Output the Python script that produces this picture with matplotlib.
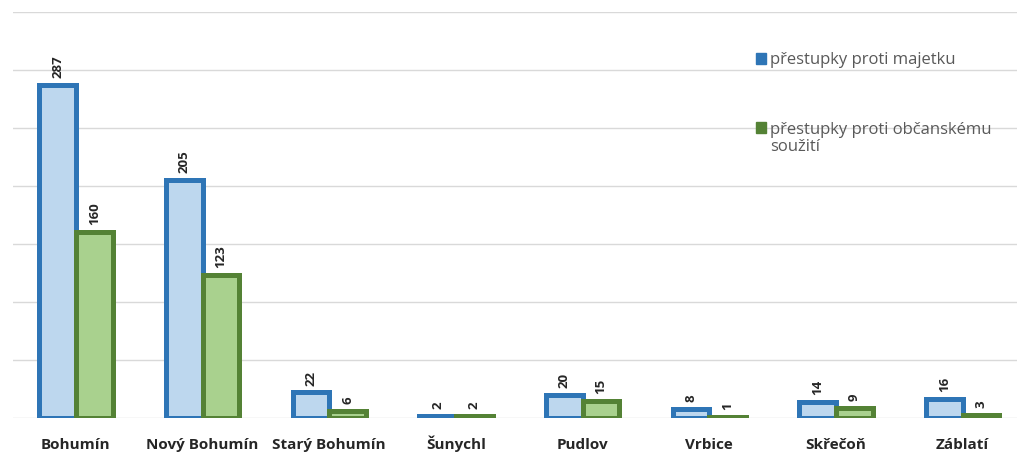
import numpy as np
import matplotlib
matplotlib.use("Agg")
import matplotlib.pyplot as plt
from matplotlib.patches import Patch

categories = ["Bohumín", "Nový Bohumín", "Starý Bohumín", "Šunychl",
              "Pudlov", "Vrbice", "Skřečoň", "Záblatí"]
majetek = [287, 205, 22, 2, 20, 8, 14, 16]
soužití = [160, 123, 6, 2, 15, 1, 9, 3]
series_names = ["přestupky proti majetku", "přestupky proti občanskému\nsoužití"]

plt.rcParams['font.family'] = ['Open Sans', 'DejaVu Sans']

fig = plt.figure(figsize=(10.17, 4.55), dpi=100)
ax = fig.add_axes([12.6 / 1017, 1 - 418 / 455, 1013.4 / 1017, 406 / 455])

x = np.arange(len(categories))
w = 0.29
blue_edge, blue_fill = "#2E75B6", "#BDD7EE"
green_edge, green_fill = "#548235", "#A9D18E"

b1 = ax.bar(x - w / 2, majetek, w, facecolor=blue_fill, edgecolor=blue_edge, linewidth=3.6, zorder=3)
b2 = ax.bar(x + w / 2, soužití, w, facecolor=green_fill, edgecolor=green_edge, linewidth=3.6, zorder=3)

for bars, vals in ((b1, majetek), (b2, soužití)):
    for rect, v in zip(bars, vals):
        ax.annotate(str(v), (rect.get_x() + rect.get_width() / 2, v),
                    xytext=(0, 5), textcoords="offset points",
                    rotation=90, ha="center", va="bottom",
                    fontsize=9.5, fontweight="bold", color="#262626")

ax.set_xlim(-0.5, len(categories) - 0.5)
ax.set_ylim(0, 350)
ax.set_yticks(np.arange(0, 351, 50))
ax.yaxis.grid(True, color="#D9D9D9", linewidth=1, zorder=0)
ax.tick_params(axis="y", left=False, labelleft=False)
ax.tick_params(axis="x", bottom=False, pad=18.5)
ax.set_xticks(x)
ax.set_xticklabels(categories, fontsize=11, fontweight="bold", color="#262626", va="baseline")
for s in ax.spines.values():
    s.set_visible(False)

handles = [Patch(facecolor=blue_edge, edgecolor=blue_edge),
           Patch(facecolor=green_edge, edgecolor=green_edge)]
leg = ax.legend(handles, series_names, loc="upper left",
                bbox_to_anchor=(748 / 1017, 1 - 44 / 455), bbox_transform=fig.transFigure,
                frameon=False, fontsize=12, handlelength=0.6, handleheight=0.6,
                handletextpad=0.2, labelspacing=3.2, borderpad=0)
for t in leg.get_texts():
    t.set_color("#595959")
    t.set_linespacing(1.15)
# put the marker of the two-line entry next to its first line
h2 = leg.legend_handles[1]
h2.set_y(h2.get_y() + 8)

fig.savefig("out.png", dpi=100)
